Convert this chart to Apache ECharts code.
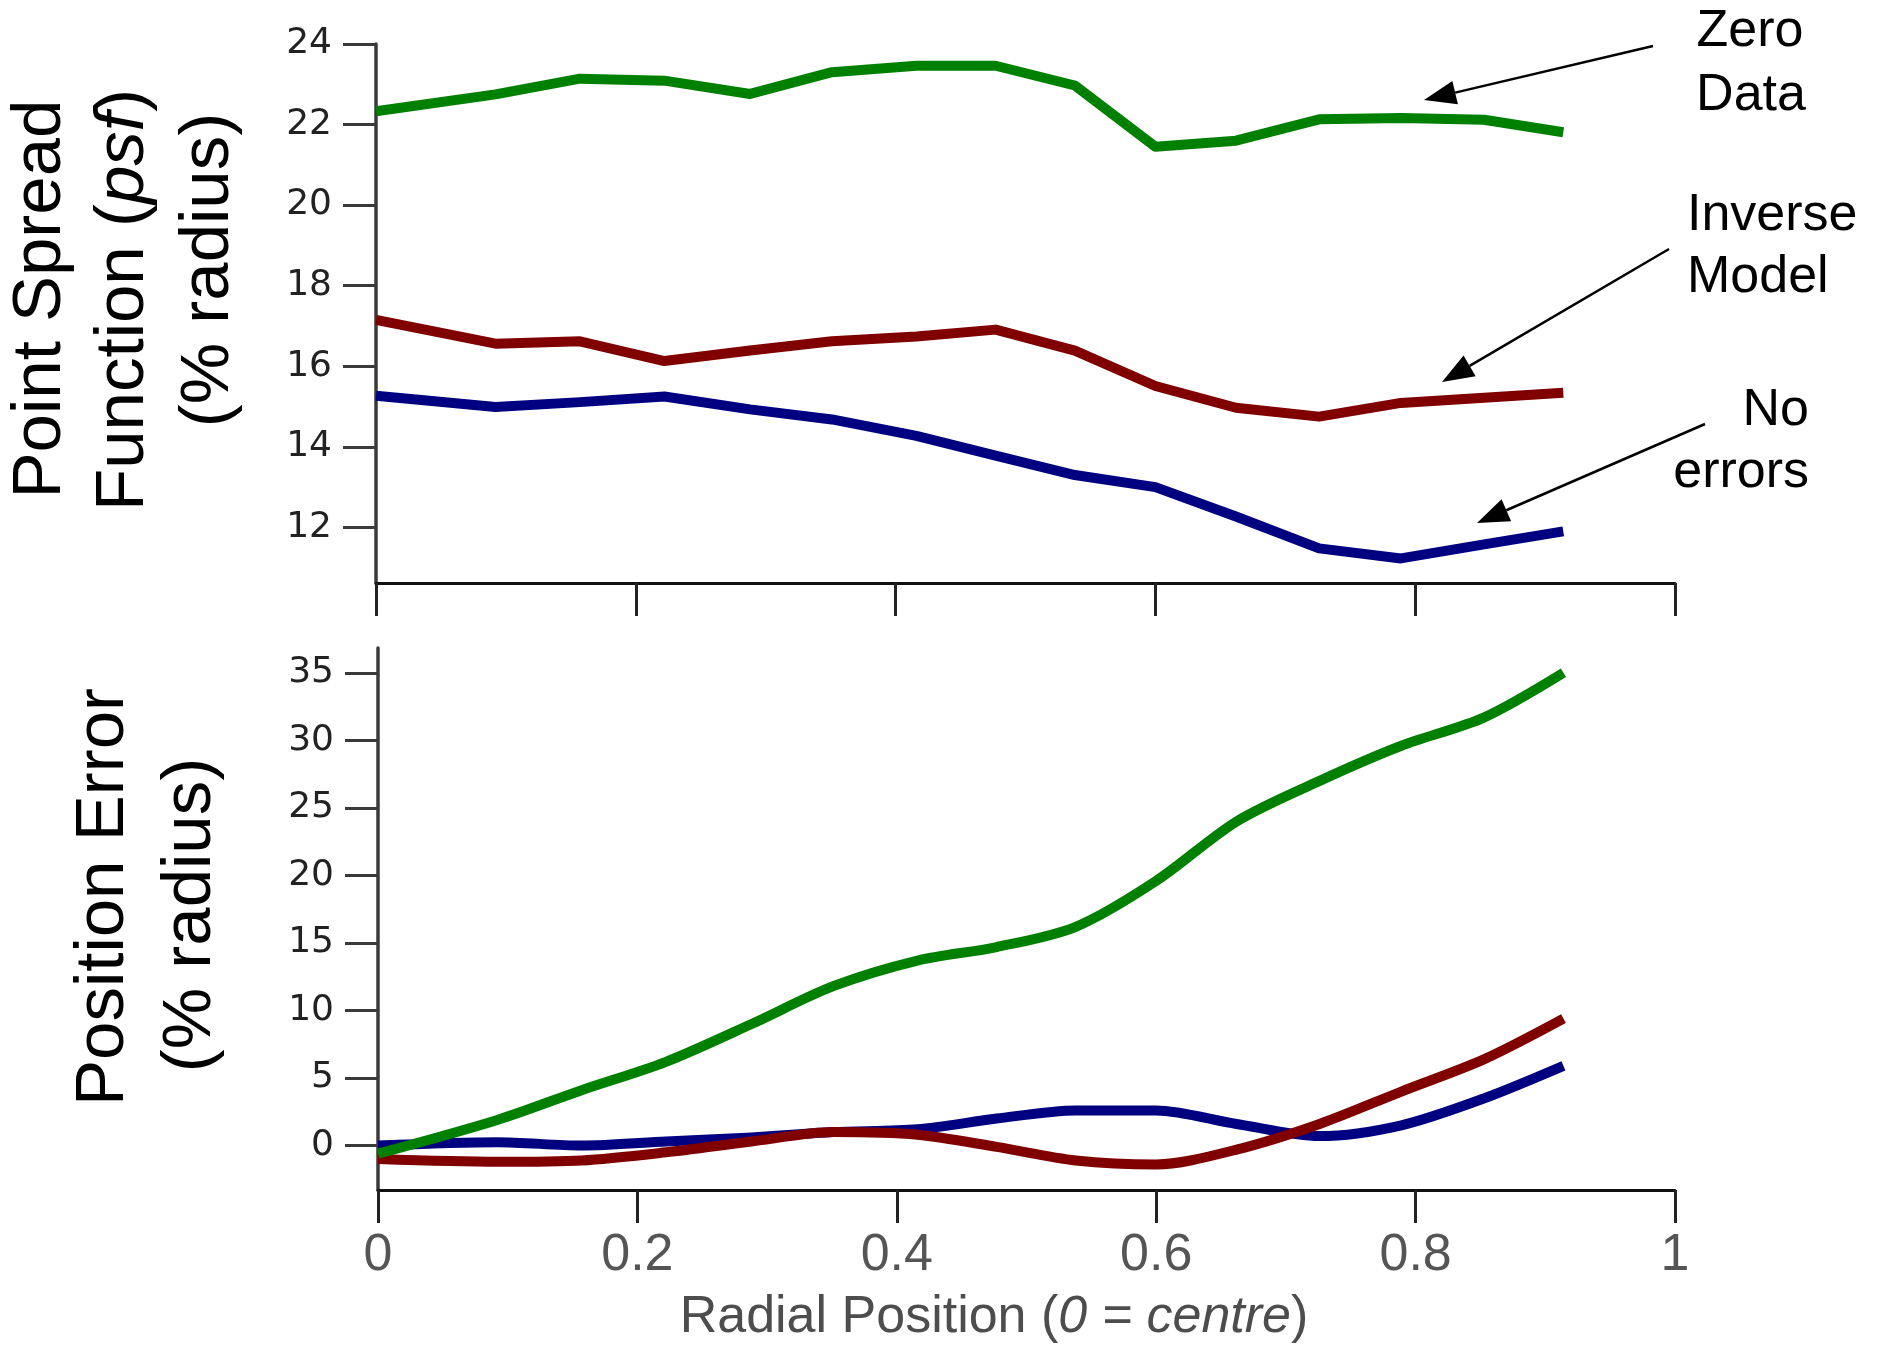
<!DOCTYPE html>
<html>
<head>
<meta charset="utf-8">
<script src="https://cdn.jsdelivr.net/npm/echarts@6/dist/echarts.min.js"></script>
<style>
  html, body { margin: 0; padding: 0; background: #fff; }
  #chart { width: 1881px; height: 1347px; }
</style>
</head>
<body>
<div id="chart"></div>
<script>
// radial position of each sample (shared by both panels)
const radialPos = [0, 0.092, 0.157, 0.222, 0.288, 0.351, 0.416, 0.477, 0.538, 0.600, 0.662, 0.726, 0.789, 0.853, 0.914]

// top panel: point spread function (% radius)
const psfZeroData = [22.33, 22.75, 23.14, 23.09, 22.76, 23.30, 23.46, 23.46, 22.97, 21.45, 21.60, 22.13, 22.16, 22.12, 21.81]
const psfInverse = [17.15, 16.56, 16.62, 16.13, 16.39, 16.62, 16.74, 16.91, 16.39, 15.51, 14.97, 14.75, 15.09, 15.22, 15.34]
const psfNoErrors = [15.27, 14.99, 15.11, 15.25, 14.93, 14.68, 14.27, 13.78, 13.30, 13.00, 12.27, 11.48, 11.23, 11.58, 11.90]

// bottom panel: position error (% radius)
const posZeroData = [-0.6, 1.9, 4.1, 6.2, 9.0, 11.8, 13.7, 14.7, 16.2, 19.6, 24.0, 27.0, 29.6, 31.7, 35.0]
const posInverse = [-1.0, -1.2, -1.1, -0.5, 0.3, 1.0, 0.8, -0.1, -1.1, -1.4, -0.3, 1.6, 4.0, 6.4, 9.4]
const posNoErrors = [0, 0.25, 0, 0.3, 0.6, 1.0, 1.2, 2.0, 2.6, 2.6, 1.6, 0.7, 1.5, 3.5, 5.9]

// tick labels
const psfTicks = [12, 14, 16, 18, 20, 22, 24]
const posTicks = [0, 5, 10, 15, 20, 25, 30, 35]

const GREEN = '#008000'
const RED = '#800000'
const BLUE = '#000080'

function pairs(ys) {
  return ys.map((y, i) => [radialPos[i], y])
}

function lineSeries(name, color, ys, idx, smooth) {
  return {
    name: name,
    type: 'line',
    xAxisIndex: idx,
    yAxisIndex: idx,
    showSymbol: false,
    smooth: smooth,
    lineStyle: { color: color, width: 10, join: 'round', cap: 'butt' },
    data: pairs(ys)
  }
}

function yAxisOf(idx, min, max, ticks) {
  return {
    type: 'value',
    gridIndex: idx,
    min: min,
    max: max,
    splitLine: { show: false },
    axisLine: { show: true, lineStyle: { color: '#3a3a3a', width: 3.5 } },
    axisTick: { show: true, length: 33, customValues: ticks, lineStyle: { color: '#3a3a3a', width: 3 } },
    axisLabel: {
      customValues: ticks,
      margin: 44,
      fontFamily: 'DejaVu Sans',
      fontSize: 36,
      color: '#222'
    }
  }
}

function xAxisOf(idx, showLabel) {
  return {
    type: 'value',
    gridIndex: idx,
    min: 0,
    max: 1,
    interval: 0.2,
    splitLine: { show: false },
    axisLine: { show: true, onZero: false, lineStyle: { color: '#111', width: 3 } },
    axisTick: { show: true, length: 33, lineStyle: { color: '#222', width: 3 } },
    axisLabel: {
      show: showLabel,
      margin: 40,
      fontFamily: 'Liberation Sans',
      fontSize: 52,
      color: '#555'
    }
  }
}

// rotated / plain annotation text
function label(text, x, y, size, opts) {
  opts = opts || {}
  const align = opts.align || 'center'
  const style = {
    text: text,
    fill: opts.color || '#000',
    fontFamily: 'Liberation Sans',
    fontSize: size,
    align: align,
    verticalAlign: 'middle',
    textAlign: align,
    textVerticalAlign: 'middle'
  }
  if (opts.rich) style.rich = opts.rich
  return { type: 'text', x: x, y: y, rotation: opts.rotation || 0, silent: true, style: style }
}

function richFont(size, color, italic) {
  return { fontFamily: 'Liberation Sans', fontSize: size, color: color, fill: color, fontStyle: italic ? 'italic' : 'normal' }
}

const HEAD_LEN = 32
const HEAD_HALF = 12
function arrow(from, to) {
  const dx = to[0] - from[0]
  const dy = to[1] - from[1]
  const len = Math.hypot(dx, dy)
  const ux = dx / len
  const uy = dy / len
  const bx = to[0] - ux * HEAD_LEN
  const by = to[1] - uy * HEAD_LEN
  return [
    { type: 'line', silent: true, shape: { x1: from[0], y1: from[1], x2: bx, y2: by }, style: { stroke: '#000', lineWidth: 2.5 } },
    { type: 'polygon', silent: true, shape: { points: [to, [bx - uy * HEAD_HALF, by + ux * HEAD_HALF], [bx + uy * HEAD_HALF, by - ux * HEAD_HALF]] }, style: { fill: '#000' } }
  ]
}

const ROT = Math.PI / 2
const graphics = [
  // top y title (three lines)
  label('Point Spread', 41, 299, 69, { rotation: ROT }),
  label('{a|Function (}{b|psf}{a|)}', 124, 300, 69, {
    rotation: ROT,
    rich: { a: richFont(69, '#000', false), b: richFont(69, '#000', true) }
  }),
  label('(% radius)', 209, 270, 69, { rotation: ROT }),
  // bottom y title
  label('Position Error', 104, 897, 69, { rotation: ROT }),
  label('(% radius)', 191, 915, 69, { rotation: ROT }),
  // x title
  label('{n|Radial Position (}{i|0 = centre}{n|)}', 994, 1318, 52, {
    color: '#4d4d4d',
    rich: { n: richFont(52, '#4d4d4d', false), i: richFont(52, '#4d4d4d', true) }
  }),
  // annotations
  label('Zero', 1750, 32, 52),
  label('Data', 1751, 96, 52),
  label('Inverse', 1687, 216, 52, { align: 'left' }),
  label('Model', 1687, 278, 52, { align: 'left' }),
  label('No', 1809, 411, 52, { align: 'right' }),
  label('errors', 1809, 473, 52, { align: 'right' })
].concat(
  arrow([1653, 46], [1424, 100]),
  arrow([1669, 249], [1442, 382]),
  arrow([1705, 424], [1477, 523])
)

const chart = echarts.init(document.getElementById('chart'), null, { renderer: 'canvas' })
chart.setOption({
  backgroundColor: '#fff',
  animation: false,
  grid: [
    { left: 376, top: 44, width: 1299, height: 539 },
    { left: 378, top: 648, width: 1297, height: 542 }
  ],
  xAxis: [xAxisOf(0, false), xAxisOf(1, true)],
  yAxis: [
    yAxisOf(0, 10.62, 24, psfTicks),
    yAxisOf(1, -3.29, 36.84, posTicks)
  ],
  series: [
    lineSeries('Zero Data', GREEN, psfZeroData, 0, false),
    lineSeries('Inverse Model', RED, psfInverse, 0, false),
    lineSeries('No errors', BLUE, psfNoErrors, 0, false),
    lineSeries('No errors', BLUE, posNoErrors, 1, 0.3),
    lineSeries('Inverse Model', RED, posInverse, 1, 0.3),
    lineSeries('Zero Data', GREEN, posZeroData, 1, 0.3)
  ],
  graphic: graphics
})
</script>
</body>
</html>
